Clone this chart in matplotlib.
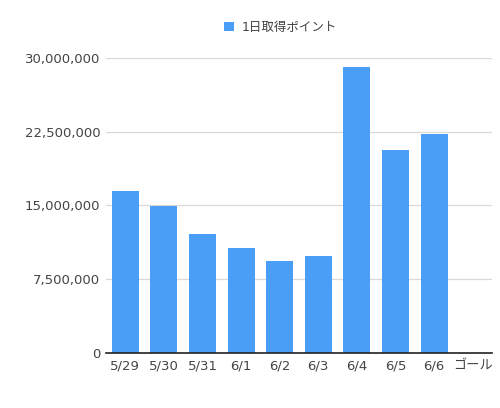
import matplotlib
matplotlib.use("Agg")
import matplotlib.pyplot as plt
from matplotlib.ticker import FuncFormatter

plt.rcParams['font.family'] = ['DejaVu Sans', 'Noto Sans CJK JP']

# data
days = ['5/29', '5/30', '5/31', '6/1', '6/2', '6/3', '6/4', '6/5', '6/6', 'ゴール']
points = [16450000, 14980000, 12100000, 10680000, 9360000, 9830000,
          29080000, 20640000, 22270000, 0]
yticks = [0, 7500000, 15000000, 22500000, 30000000]

fig = plt.figure(figsize=(5, 4.08), dpi=100)
ax = fig.add_axes([0.212, 0.135, 0.772, 0.723])

bars = ax.bar(range(len(days)), points, width=0.7, color='#4a9ef5',
              label='1日取得ポイント', zorder=2)

ax.set_xlim(-0.5, len(days) - 0.5)
ax.set_ylim(0, 30000000)
ax.set_yticks(yticks)
ax.yaxis.set_major_formatter(FuncFormatter(lambda v, p: f'{int(v):,}'))
ax.set_xticks(range(len(days)))
ax.set_xticklabels(days)

ax.grid(axis='y', color='#d9d9d9', linewidth=0.9, zorder=0)
for s in ['top', 'right', 'left']:
    ax.spines[s].set_visible(False)
ax.spines['bottom'].set_color('#222222')
ax.spines['bottom'].set_linewidth(1.2)
ax.spines['bottom'].set_zorder(3)
ax.tick_params(axis='both', length=0, labelsize=9.5, colors='#444444')
ax.tick_params(axis='y', pad=4)
ax.tick_params(axis='x', pad=5)

fig.legend(handles=[bars], labels=['1日取得ポイント'], loc='center',
           bbox_to_anchor=(0.561, 0.933), frameon=False, fontsize=9,
           handlelength=0.8, handleheight=0.8, handletextpad=0.6,
           labelcolor='#444444')

fig.savefig('out.png', dpi=100)
